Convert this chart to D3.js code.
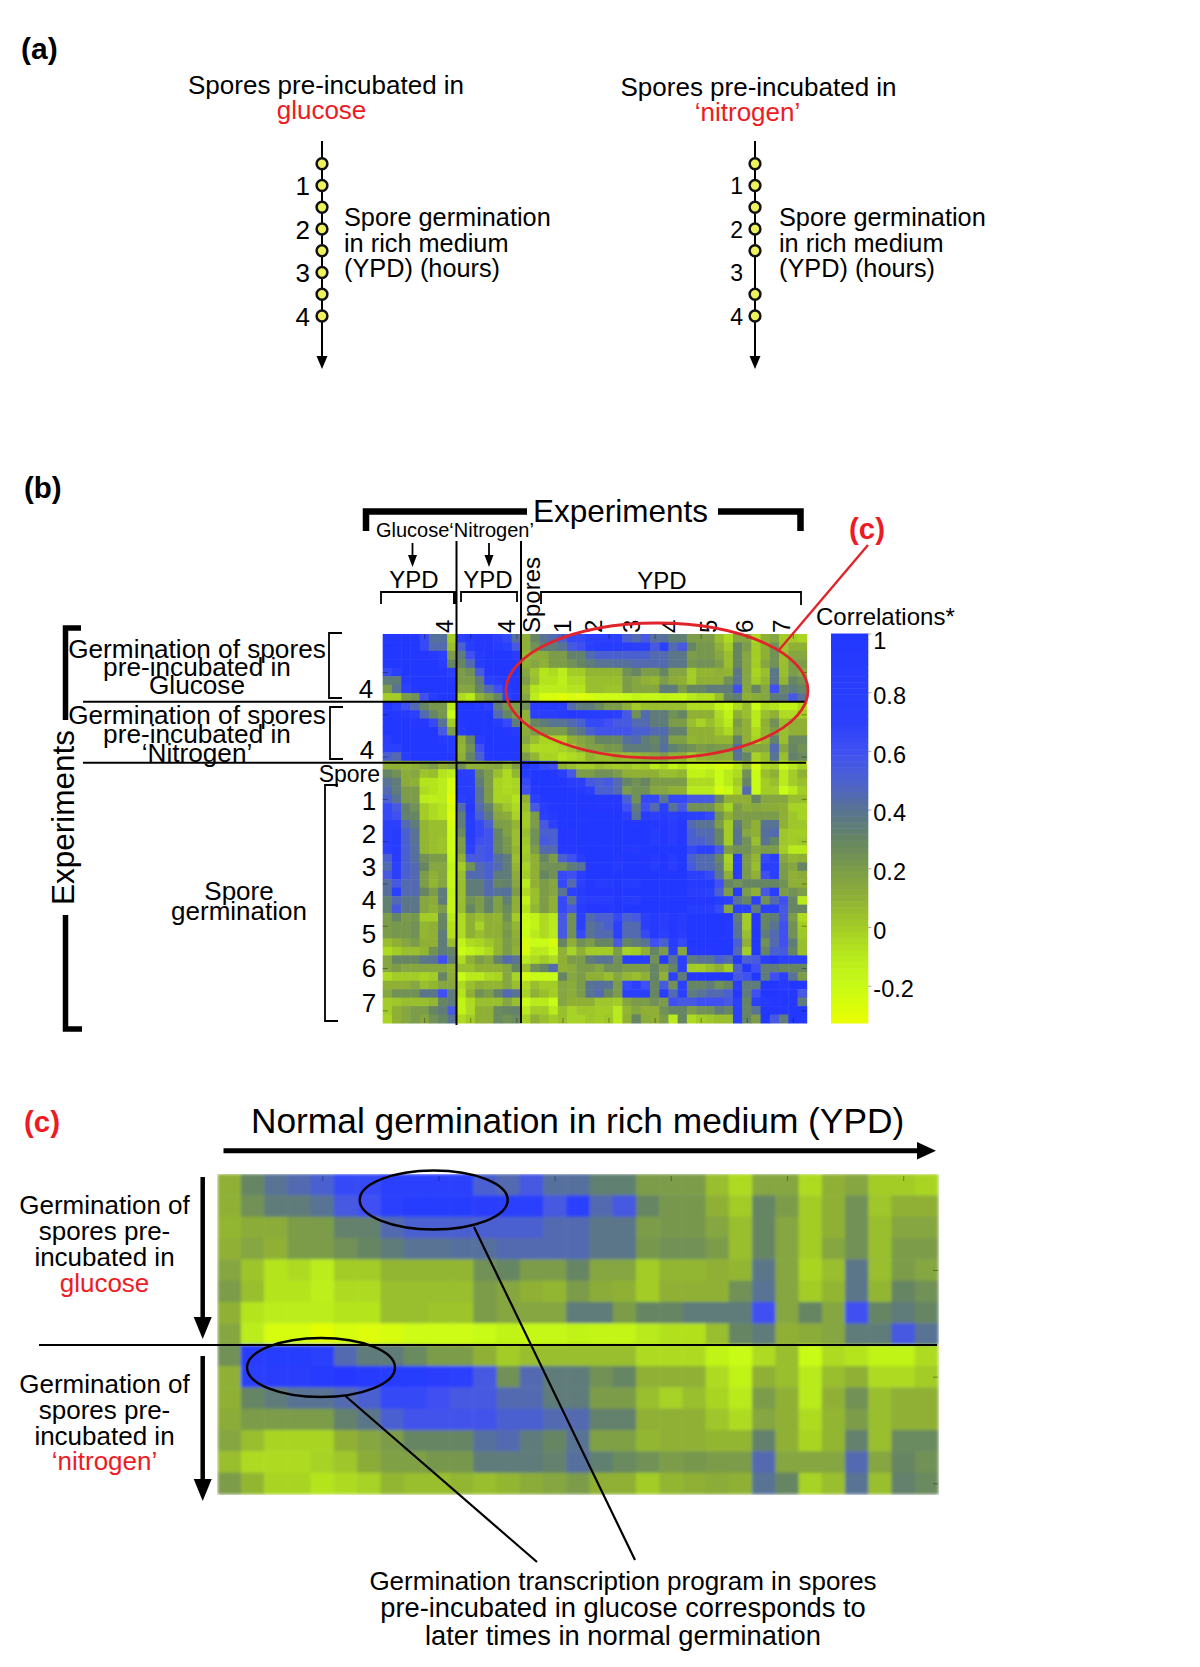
<!DOCTYPE html>
<html><head><meta charset="utf-8">
<script src="https://cdnjs.cloudflare.com/ajax/libs/d3/7.8.5/d3.min.js"></script>
<style>
html,body{margin:0;padding:0;background:#fff}
svg{display:block}
text{font-family:"Liberation Sans",Arial,sans-serif;fill:#000}
</style></head><body>
<svg id="chart" width="1200" height="1667"></svg>
<script>
// ---------- data ----------
const glucoseHours  = [0.5,1,1.5,2,2.5,3,3.5,4];
const nitrogenHours = [0.5,1,1.5,2,2.5,3.5,4];
const hourTicks = [1,2,3,4];
const colorbarTicks = [1,0.8,0.6,0.4,0.2,0,-0.2];
const colorStops  = [-.33,-.2,-.1,0,.1,.2,.3,.35,.42,.5,.6,.7,1];
const colorValues = ["#eaff00","#c8fb15","#b8ea1c","#a3cc27","#8fb035","#7b9c49","#668563","#5e7c7a","#566f9e","#4c61d0","#3f50f2","#2c40fc","#2338ff"];

// rows 0-14: all 46 columns (8 glucose, 7 nitrogen, 31 normal germination)
const rowsTop = [
[1,1,1,1,.65,.42,.42,0,.7,.9,.95,.95,.7,.65,.42,.1,.3,.4,.45,.5,.65,.65,.7,.7,.7,.7,.5,.45,.55,.42,.42,.33,.33,.2,.2,.2,.05,-.05,.15,.15,-.05,.1,.15,0,0,-.03],
[1,1,1,1,.65,.45,.45,.05,.5,.85,.95,.95,.85,.75,.55,.1,.25,.35,.35,.4,.55,.6,.75,.85,.85,.85,.8,.75,.7,.55,.7,.45,.55,.3,.22,.22,.1,0,.3,.2,0,.1,.25,.02,.1,.1],
[1,1,1,1,.95,.9,.7,.2,.35,.6,.9,1,1,1,.85,.08,.12,.12,.2,.2,.32,.32,.45,.5,.5,.5,.5,.5,.5,.45,.45,.38,.38,.2,.22,.22,.15,.05,.3,.15,0,.1,.25,.05,.15,.15],
[1,1,1,1,1,1,.8,.3,.3,.45,.85,1,1,1,.95,.1,.15,.1,.2,.2,.25,.3,.35,.4,.4,.42,.42,.45,.45,.45,.45,.38,.38,.22,.25,.25,.2,.05,.3,.15,0,.15,.25,.05,.2,.2],
[.65,.7,1,1,1,1,.95,.7,.2,.25,.55,.95,1,1,1,.15,.03,-.08,-.05,-.12,0,0,.08,.08,.08,.08,.25,.3,.2,.2,.3,.15,.15,0,.08,.08,.1,.08,.38,.15,-.03,.05,.38,.05,.2,.15],
[.35,.35,.9,1,1,1,1,.95,.2,.2,.35,.7,.8,.9,1,.2,.05,-.08,-.08,-.13,-.05,-.05,.05,.05,.05,.05,.2,.15,.1,.08,.2,.12,.1,0,.1,.1,.1,.25,.4,.15,0,.08,.38,.08,.3,.25],
[.2,.4,.7,.95,1,1,1,1,.15,.15,.3,.45,.6,.9,1,.1,-.08,-.12,-.12,-.12,-.08,-.08,.05,.05,.03,.03,.2,.15,.15,.15,.35,.35,.2,.3,.3,.35,.35,.35,.6,.15,.3,.15,.6,.3,.35,.3],
[0,0,.2,.25,.6,.85,1,1,-.05,-.1,.1,.2,.3,.75,.95,.15,-.12,-.25,-.25,-.3,-.25,-.28,-.25,-.22,-.22,-.22,-.2,-.15,-.18,-.18,-.15,-.17,-.17,-.1,-.07,-.07,.05,.3,.35,.1,.12,.15,.35,.35,.55,.4],
[1,.7,.6,.45,.3,.22,.22,-.1,1,1,.9,.75,.35,.22,.2,.25,.8,.85,.85,.75,.45,.35,.35,.28,.2,.2,.1,0,.05,.05,.05,.05,.05,-.05,-.05,-.05,-.15,-.2,-.05,.05,-.2,-.05,-.08,-.15,-.15,-.05],
[1,.95,.9,.75,.45,.3,.22,-.2,1,1,1,1,.45,.3,.2,.1,.7,.8,.8,.9,.95,.9,.85,.85,.8,.75,.55,.25,.45,.35,.35,.25,.3,.1,.1,.1,-.05,-.15,.1,.05,-.1,.05,.1,-.05,-.05,0],
[1,1,1,.95,.95,.65,.4,0,.95,1,1,1,.85,.65,.35,.1,.3,.35,.4,.4,.45,.5,.65,.65,.6,.55,.55,.45,.45,.35,.35,.2,.2,.05,-.02,.05,-.03,-.1,.2,.1,-.1,.1,.25,.05,.1,.1],
[1,1,1,1,1,1,.55,.2,.85,1,1,1,1,.95,.85,.12,.2,.2,.2,.2,.32,.38,.5,.58,.58,.58,.58,.5,.5,.45,.45,.32,.32,.1,.1,.1,.02,-.05,.15,.1,-.05,.08,.2,.05,.1,.1],
[.8,1,1,1,1,1,.9,.85,.1,.3,.8,1,1,1,1,.15,.05,-.03,-.03,-.03,.1,.15,.2,.3,.3,.3,.42,.45,.35,.3,.4,.18,.18,.08,.1,.1,.08,.08,.32,.1,-.03,.08,.32,.05,.28,.28],
[.7,.75,1,1,1,1,1,.85,.08,.25,.6,1,1,1,1,.05,-.05,-.05,-.05,-.02,.02,.12,.18,.18,.22,.22,.35,.35,.35,.32,.42,.33,.28,.25,.2,.22,.2,.2,.45,.15,.15,.15,.45,.15,.3,.25],
[.5,.45,.85,1,1,1,1,.95,.1,.3,.5,.95,1,1,1,.2,.08,-.03,-.03,-.08,-.05,-.02,.08,.05,.05,.08,.05,.08,.12,.15,.2,.1,.1,0,.08,.1,.12,.1,.4,.3,-.02,.05,.4,.05,.32,.28]
];
// rows 15-45: from the diagonal to the last column (the correlation block is symmetric)
const rowsLower = [
[1,.85,.65,.6,.1,.05,0,0,.05,.02,0,.02,-.02,0,-.1,-.05,-.15,-.08,-.2,-.22,-.2,-.25,-.25,-.1,.05,-.25,-.05,-.02,-.2,-.1,-.02],
[1,1,.95,.75,.55,.2,.2,.25,.25,.2,.1,.1,.1,.1,.05,.05,.08,-.15,-.15,-.1,-.2,-.1,-.05,.25,-.2,.05,.1,-.1,0,.1],
[1,1,.95,.8,.7,.55,.5,.55,.45,.3,.25,.3,.2,.2,.2,.2,-.05,-.05,-.05,-.2,-.1,0,.3,-.2,0,.05,-.1,0,.05],
[1,1,.95,.9,.7,.5,.5,.45,.2,.25,.25,.15,.15,.1,.1,-.1,-.1,-.1,-.25,-.2,-.05,.45,-.2,0,0,-.2,-.1,0],
[1,1,1,1,.95,.95,.95,.5,.25,.65,.65,.4,.65,.65,.55,.55,.55,.3,.1,.1,.1,.3,.15,.15,.15,.05,.05],
[1,1,1,.95,.95,.95,.6,.35,.6,.45,.7,.4,.55,.25,.25,.25,.1,-.02,.2,.12,.15,.12,.12,.1,-.02,-.02],
[1,1,1,1,1,.8,.4,.8,.75,.85,.75,.85,.7,.7,.65,.25,.1,.2,.2,.2,.2,.2,.1,.02,-.02],
[1,1,1,1,1,.95,1,.95,.95,.8,.95,.45,.4,.4,.2,0,.35,.2,.1,.4,.4,.1,.02,.02],
[1,1,1,1,1,1,.85,.95,.8,.95,.5,.45,.45,.3,0,.4,.15,.1,.42,.45,.02,0,0],
[1,1,1,1,1,.85,.95,.8,.95,.5,.5,.45,.3,0,.4,.25,.05,.4,.3,.02,0,.02],
[1,.95,.9,1,1,1,1,1,.65,.7,.7,.55,.2,.25,.25,.15,.2,.2,0,-.1,-.1],
[1,1,1,.9,1,.85,1,.5,.45,.45,.3,-.02,.8,.2,.08,.65,.7,.15,.08,.1],
[1,1,.85,1,.8,1,.55,.45,.45,.35,0,.85,.2,.05,.7,.7,.2,.15,.3],
[1,1,1,1,1,.7,.7,.65,.4,.1,.8,.2,.1,.6,.7,.2,.1,.12],
[1,1,1,1,.9,.9,.9,.6,.3,.25,.3,.3,.3,.3,.25,.1,.1],
[1,1,1,.8,.8,.75,.5,.2,.9,.2,.1,.55,.8,.2,.25,.2],
[1,1,.95,.95,.95,.85,.7,.4,.3,.75,.25,.45,.6,.3,-.1],
[1,.85,.85,.8,.65,.15,.75,.75,.35,.7,.7,.55,.3,.3],
[1,1,1,1,.95,.35,0,.95,.3,.35,.55,.2,-.05],
[1,1,1,.95,.4,0,.95,.3,.4,.6,.25,0],
[1,1,.95,.4,.05,1,.35,.45,.6,.25,.02],
[1,1,.5,.1,1,.25,.45,.6,.35,.05],
[1,.45,0,1,.3,.5,.55,.3,.05],
[1,.5,.55,.8,.95,.7,.7,.7],
[1,.6,.35,.35,.3,.3,.3],
[1,.35,.6,.75,.4,.2],
[1,1,.9,1,1],
[1,.95,.95,.55],
[1,.95,.35],
[1,1],
[1]
];
const nTop = rowsTop.length, nAll = rowsTop[0].length;
const valueAt = (r,c) => {
  if (r < nTop) return rowsTop[r][c];
  if (c < nTop) return rowsTop[c][r];
  return r <= c ? rowsLower[r-nTop][c-r] : rowsLower[c-nTop][r-c];
};

// ---------- helpers ----------
const RED = "#ed1c24";
const svg = d3.select("#chart");
const color = d3.scaleLinear().domain(colorStops).range(colorValues).clamp(true);
const defs = svg.append("defs");
const blur = (id,s)=>defs.append("filter").attr("id",id).attr("x",0).attr("y",0).attr("width","100%").attr("height","100%")
  .append("feGaussianBlur").attr("stdDeviation",s).attr("edgeMode","duplicate");
blur("softB",0.7); blur("softC",1.5);
function label(x,y,str,size,o={}){
  const t = svg.append("text").attr("x",x).attr("y",y).attr("font-size",size).text(str)
    .attr("text-anchor",o.anchor||"start");
  if(o.bold) t.attr("font-weight","bold");
  if(o.fill) t.style("fill",o.fill);
  if(o.ls) t.attr("letter-spacing",o.ls);
  if(o.rot) t.attr("transform",`rotate(${o.rot} ${x} ${y})`);
  return t;
}
function line(x1,y1,x2,y2,w=2,c="#000"){
  return svg.append("line").attr("x1",x1).attr("y1",y1).attr("x2",x2).attr("y2",y2).attr("stroke",c).attr("stroke-width",w);
}
function path(d,w=2,c="#000",fill="none"){
  return svg.append("path").attr("d",d).attr("stroke",c).attr("stroke-width",w).attr("fill",fill);
}
function arrowDown(x,y0,tip,hw,hl,w){
  line(x,y0,x,tip-hl+1,w);
  path(`M${x-hw},${tip-hl}L${x+hw},${tip-hl}L${x},${tip}Z`,0,"none","#000");
}

// ---------- panel (a) ----------
label(21,59,"(a)",30,{bold:true});
function timeline(cx,hours,tx,ty,word,wordX,wordY,textX,numSize){
  const y = d3.scaleLinear().domain([0,5]).range([142,359.5]);
  label(tx,ty,"Spores pre-incubated in",26);
  label(wordX,wordY,word,26,{fill:RED,anchor:"middle"});
  arrowDown(cx,141,369,5.5,13,2);
  const ax = svg.append("g").attr("transform",`translate(${cx},0)`)
    .call(d3.axisLeft(y).tickValues(hourTicks).tickSize(0).tickPadding(12).tickFormat(d3.format("d")));
  ax.select(".domain").remove();
  ax.selectAll("text").attr("font-size",numSize).attr("dy","0.36em");
  svg.append("g").selectAll("circle").data(hours).join("circle")
    .attr("cx",cx).attr("cy",d=>y(d)).attr("r",5.4)
    .attr("fill","#eef25c").attr("stroke","#111").attr("stroke-width",2.5);
  ["Spore germination","in rich medium","(YPD) (hours)"].forEach((s,i)=>label(textX,[225.5,251.5,277][i],s,25.3));
}
timeline(322,glucoseHours,188,94,"glucose",321.5,119,344,26);
timeline(755,nitrogenHours,620.5,96,"‘nitrogen’",747.5,121,779,23);

// ---------- panel (b) ----------
label(24,498,"(b)",29.5,{bold:true});
const bX = d3.scaleBand().domain(d3.range(nAll)).range([382.7,806.7]);
const bY = d3.scaleBand().domain(d3.range(nAll)).range([634,1023]);
const cells = d3.range(nAll).flatMap(r=>d3.range(nAll).map(c=>({r,c,v:valueAt(r,c)})));
svg.append("g").attr("filter","url(#softB)").selectAll("rect").data(cells).join("rect")
  .attr("x",d=>bX(d.c)).attr("y",d=>bY(d.r)).attr("width",bX.bandwidth()+.5).attr("height",bY.bandwidth()+.5)
  .attr("fill",d=>color(d.v));
const tickIdx = d3.range(4,nAll,5);
function miniTicks(gen,tx,ty,idx){
  const g = svg.append("g").attr("transform",`translate(${tx},${ty})`).call(gen.tickValues(idx).tickSize(-5).tickFormat(""));
  g.select(".domain").remove();
  g.selectAll("line").attr("stroke","#000").attr("stroke-opacity",.35);
}
const bXc = d3.scalePoint().domain(d3.range(nAll)).range([382.7+4.6,806.7-4.6]);
const bYc = d3.scalePoint().domain(d3.range(nAll)).range([634+4.2,1023-4.2]);
miniTicks(d3.axisTop(bXc),0,634,tickIdx);
miniTicks(d3.axisBottom(bXc),0,1023,tickIdx);
miniTicks(d3.axisLeft(bYc),382.7,0,tickIdx);
miniTicks(d3.axisRight(bYc),806.7,0,tickIdx);

// separators
line(456.5,541,456.5,1025,2); line(521,541,521,1023,2);
line(83,701.7,806,701.7,2); line(83,762.7,806,762.7,2);

// thick brackets
path("M366,531V511.5H527",6.5);
path("M718,511.5H800.5V531",6.5);
path("M81,628H65.5V720",5.5);
path("M65.5,915V1029H82",5.5);
label(533,521.5,"Experiments",31.5);
label(74,905,"Experiments",31.5,{rot:-90});
label(376,537,"Glucose‘Nitrogen’",20);

// small arrows and YPD brackets
arrowDown(412.5,543,567,4.5,12,1.8);
arrowDown(489,543,567,4.5,12,1.8);
label(414,588,"YPD",24,{anchor:"middle"});
label(488,588,"YPD",24,{anchor:"middle"});
label(662,589,"YPD",24,{anchor:"middle"});
path("M381,604V592H455V604",1.8); path("M454.5,592V604",3);
path("M461,602V592H517V602",1.8);
path("M541,604V592H801V605",1.8);

// rotated top labels
label(453,633,"4",24,{rot:-90});
label(515,633,"4",24,{rot:-90});
label(540,633,"Spores",24,{rot:-90});
["1","2","3","4","5","6","7"].forEach((s,i)=>label([571,602,640,679,717,753,790][i],633,s,24,{rot:-90}));

// left labels
["Germination of spores","pre-incubated in","Glucose"].forEach((s,i)=>label(197,[658,676,694][i],s,26.2,{anchor:"middle"}));
["Germination of spores","pre-incubated in","‘Nitrogen’"].forEach((s,i)=>label(197,[724,743,762][i],s,26.2,{anchor:"middle"}));
path("M342,633H329V698H342",1.8);
path("M343,707H330V759H343",1.8);
path("M338,785H325V1021H338",1.8);
label(366,698,"4",26,{anchor:"middle"});
label(367,759,"4",26,{anchor:"middle"});
label(380,782,"Spore",23,{anchor:"end"});
["1","2","3","4","5","6","7"].forEach((s,i)=>label(369,[810,843,876,909,943,977,1012][i],s,26,{anchor:"middle"}));
label(239,900,"Spore",26,{anchor:"middle"});
label(239,920,"germination",26,{anchor:"middle"});

// red ellipse
svg.append("ellipse").attr("cx",657).attr("cy",690.5).attr("rx",151).attr("ry",67.5)
  .attr("fill","none").attr("stroke","#e0242c").attr("stroke-width",2.8);
line(868,545,779,650,2.4,"#e0242c");
label(867,539,"(c)",29.5,{bold:true,fill:RED,anchor:"middle"});

// colorbar
const barY = d3.scaleLinear().domain([-.327,1]).range([1023,633.5]);
const barLevels = d3.range(64).map(i=>-.327+(i+.5)*1.327/64);
svg.append("g").selectAll("rect").data(barLevels).join("rect")
  .attr("x",831).attr("width",37.3)
  .attr("y",d=>barY(d+1.327/128)).attr("height",Math.abs(barY(0)-barY(1.327/64))+.5)
  .attr("fill",d=>color(d));
const barAxis = svg.append("g").attr("transform","translate(868.3,0)")
  .call(d3.axisRight(barY).tickValues(colorbarTicks).tickSize(0).tickPadding(5).tickFormat(d=>String(d)));
barAxis.select(".domain").remove();
barAxis.selectAll("text").attr("font-size",23.5).attr("dy","0.86em")
  .attr("transform",d=>`translate(0,${d===1?-5:-9})`);
const barInner = svg.append("g").attr("transform","translate(868.3,0)").call(d3.axisLeft(barY).tickValues(colorbarTicks).tickSize(3).tickFormat(""));
barInner.select(".domain").remove(); barInner.selectAll("line").attr("stroke","#000").attr("stroke-opacity",.35).attr("transform","translate(3,0)");
label(816,625,"Correlations*",24);

// ---------- panel (c) ----------
label(24,1132,"(c)",29.5,{bold:true,fill:RED});
label(251,1133,"Normal germination in rich medium (YPD)",35.3);
line(223.5,1150.7,920,1150.7,5);
path("M917,1142L936,1150.7L917,1159.5Z",0,"none","#000");
const cCols = d3.range(nTop,nAll), cRows = d3.range(nTop);
const cX = d3.scaleBand().domain(cCols).range([217.7,938]);
const cY = d3.scaleBand().domain(cRows).range([1174,1494]);
const cCells = cells.filter(d=>d.r<nTop && d.c>=nTop);
svg.append("g").attr("filter","url(#softC)").selectAll("rect").data(cCells).join("rect")
  .attr("x",d=>cX(d.c)).attr("y",d=>cY(d.r)).attr("width",cX.bandwidth()+.5).attr("height",cY.bandwidth()+.5)
  .attr("fill",d=>color(d.v));
const cXc = d3.scalePoint().domain(cCols).range([217.7+11.6,938-11.6]);
const cYc = d3.scalePoint().domain(cRows).range([1174+10.7,1494-10.7]);
miniTicks(d3.axisTop(cXc),0,1176,tickIdx.filter(i=>i>=nTop));
miniTicks(d3.axisRight(cYc),938,0,tickIdx.filter(i=>i<nTop));
line(39,1345,937,1345,2);
arrowDown(202.7,1177,1339,9,22,4.5);
arrowDown(202.7,1356,1501,9,22,4.5);
["Germination of","spores pre-","incubated in"].forEach((s,i)=>label(104.5,[1214,1240,1266][i],s,26,{anchor:"middle"}));
label(104.5,1292,"glucose",26,{anchor:"middle",fill:RED});
["Germination of","spores pre-","incubated in"].forEach((s,i)=>label(104.5,[1393,1419,1445][i],s,26,{anchor:"middle"}));
label(104.5,1470,"‘nitrogen’",26,{anchor:"middle",fill:RED});
[[433.7,1200],[321,1367.5]].forEach(([x,y])=>svg.append("ellipse").attr("cx",x).attr("cy",y).attr("rx",74).attr("ry",29.5)
  .attr("fill","none").attr("stroke","#000").attr("stroke-width",2.4));
line(474,1227,635,1560,2.2);
line(345.4,1396,537,1562,2.2);
label(623,1590,"Germination transcription program in spores",26,{anchor:"middle"});
label(623,1617,"pre-incubated in glucose corresponds to",27.3,{anchor:"middle"});
label(623,1645,"later times in normal germination",27.3,{anchor:"middle"});
</script>
</body></html>
